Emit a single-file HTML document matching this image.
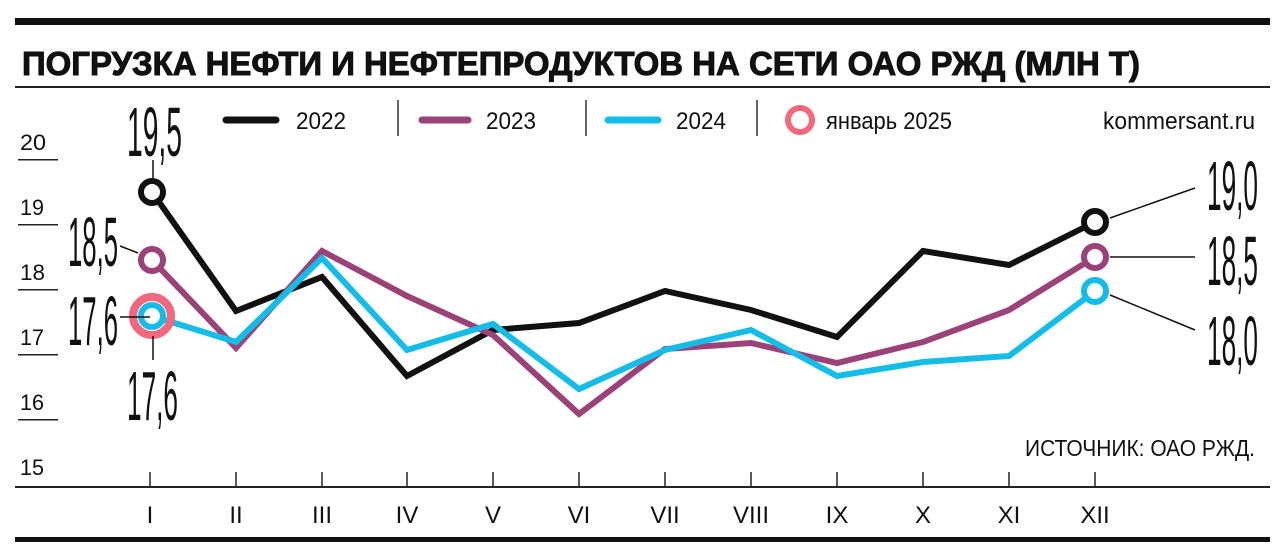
<!DOCTYPE html>
<html><head><meta charset="utf-8"><style>
html,body{margin:0;padding:0;background:#fff;}
svg{display:block;}
text{font-family:"Liberation Sans Narrow","Liberation Sans",sans-serif;fill:#111;}
</style></head><body>
<svg width="1280" height="560" viewBox="0 0 1280 560" xmlns="http://www.w3.org/2000/svg">
<rect x="15" y="18" width="1255" height="7" fill="#111"/>
<text x="22" y="75" font-weight="bold" font-size="33" textLength="1118" lengthAdjust="spacingAndGlyphs" stroke="#111" stroke-width="1" style="font-family:'Liberation Sans',sans-serif">ПОГРУЗКА НЕФТИ И НЕФТЕПРОДУКТОВ НА СЕТИ ОАО РЖД (МЛН Т)</text>
<rect x="15" y="86" width="1255" height="2" fill="#222"/>
<g font-size="22" fill="#222">
<text x="20" y="150" textLength="26" lengthAdjust="spacingAndGlyphs">20</text><rect x="18" y="159" width="40" height="1.5" fill="#222"/>
<text x="20" y="215" textLength="24" lengthAdjust="spacingAndGlyphs">19</text><rect x="18" y="224" width="40" height="1.5" fill="#222"/>
<text x="20" y="280" textLength="25" lengthAdjust="spacingAndGlyphs">18</text><rect x="18" y="289" width="40" height="1.5" fill="#222"/>
<text x="20" y="345" textLength="24" lengthAdjust="spacingAndGlyphs">17</text><rect x="18" y="354" width="40" height="1.5" fill="#222"/>
<text x="20" y="410" textLength="24" lengthAdjust="spacingAndGlyphs">16</text><rect x="18" y="419" width="40" height="1.5" fill="#222"/>
<text x="20" y="475" textLength="24" lengthAdjust="spacingAndGlyphs">15</text>
</g>
<rect x="15" y="486" width="1255" height="2" fill="#222"/>
<g stroke="#222" stroke-width="1.5">
<line x1="150" y1="472" x2="150" y2="487"/><line x1="236" y1="472" x2="236" y2="487"/><line x1="322" y1="472" x2="322" y2="487"/><line x1="407" y1="472" x2="407" y2="487"/><line x1="493" y1="472" x2="493" y2="487"/><line x1="579" y1="472" x2="579" y2="487"/><line x1="665" y1="472" x2="665" y2="487"/><line x1="751" y1="472" x2="751" y2="487"/><line x1="837" y1="472" x2="837" y2="487"/><line x1="923" y1="472" x2="923" y2="487"/><line x1="1009" y1="472" x2="1009" y2="487"/><line x1="1095" y1="472" x2="1095" y2="487"/>
</g>
<g font-size="24" text-anchor="middle" fill="#222">
<text x="150" y="523">I</text><text x="236" y="523">II</text><text x="322" y="523">III</text><text x="407" y="523">IV</text><text x="493" y="523">V</text><text x="579" y="523">VI</text><text x="665" y="523">VII</text><text x="751" y="523">VIII</text><text x="837" y="523">IX</text><text x="923" y="523">X</text><text x="1009" y="523">XI</text><text x="1095" y="523">XII</text>
</g>
<rect x="15" y="537" width="1255" height="5" fill="#111"/>
<text x="1025" y="456" font-size="23" textLength="230" lengthAdjust="spacingAndGlyphs" fill="#222">ИСТОЧНИК: ОАО РЖД.</text>
<g stroke-linecap="round" stroke-width="7">
<line x1="226" y1="120" x2="276" y2="120" stroke="#111"/>
<line x1="422" y1="120" x2="468" y2="120" stroke="#9b4279"/>
<line x1="608" y1="120" x2="658" y2="120" stroke="#14bde8"/>
</g>
<g stroke="#333" stroke-width="1.5"><line x1="398" y1="100" x2="398" y2="136"/><line x1="586" y1="100" x2="586" y2="136"/><line x1="757" y1="100" x2="757" y2="136"/></g>
<circle cx="800" cy="120" r="12" fill="none" stroke="#f2687c" stroke-width="6"/>
<g font-size="24" fill="#222">
<text x="296" y="129" textLength="50" lengthAdjust="spacingAndGlyphs">2022</text>
<text x="486" y="129" textLength="50" lengthAdjust="spacingAndGlyphs">2023</text>
<text x="676" y="129" textLength="50" lengthAdjust="spacingAndGlyphs">2024</text>
<text x="826" y="129" textLength="126" lengthAdjust="spacingAndGlyphs">январь 2025</text>
<text x="1103" y="129" textLength="152" lengthAdjust="spacingAndGlyphs" fill="#777">kommersant.ru</text>
</g>
<g fill="none" stroke-width="6" stroke-linejoin="miter">
<polyline stroke="#111" points="152,192 236,311 322,277 407,376 493,330 579,323 665,291 751,310 837,337 923,251 1009,265 1095,222"/>
<polyline stroke="#9b4279" points="152,260 236,348 322,251 407,296 493,335 579,414 665,349 751,343 837,363 923,342 1009,310 1095,257"/>
<polyline stroke="#14bde8" points="152,316 236,342 322,258 407,350 493,324 579,389 665,350 751,330 837,376 923,362 1009,356 1095,291"/>
</g>
<circle cx="152" cy="316" r="19" fill="none" stroke="#f2687c" stroke-width="8"/>
<g fill="#fff" stroke-width="6">
<circle cx="152" cy="192" r="11" stroke="#111"/>
<circle cx="152" cy="260" r="11" stroke="#9b4279"/>
<circle cx="152" cy="316" r="11" stroke="#14bde8"/>
<circle cx="1095" cy="222" r="11" stroke="#111"/>
<circle cx="1095" cy="257" r="11" stroke="#9b4279"/>
<circle cx="1095" cy="291" r="11" stroke="#14bde8"/>
</g>
<g stroke="#111" stroke-width="1.5">
<line x1="153" y1="160" x2="153" y2="178"/>
<line x1="120" y1="246" x2="138" y2="253"/>
<line x1="120" y1="317" x2="150" y2="317"/>
<line x1="153" y1="336" x2="153" y2="360"/>
<line x1="1110" y1="218" x2="1195" y2="188"/>
<line x1="1110" y1="257" x2="1195" y2="257"/>
<line x1="1110" y1="295" x2="1195" y2="330"/>
</g>
<g font-size="70" fill="#111">
<text x="127" y="156" textLength="55" lengthAdjust="spacingAndGlyphs">19,5</text>
<text x="68" y="266" textLength="50" lengthAdjust="spacingAndGlyphs">18,5</text>
<text x="68" y="345" textLength="50" lengthAdjust="spacingAndGlyphs">17,6</text>
<text x="127" y="420" textLength="51" lengthAdjust="spacingAndGlyphs">17,6</text>
<text x="1207" y="210" textLength="51" lengthAdjust="spacingAndGlyphs">19,0</text>
<text x="1207" y="285" textLength="51" lengthAdjust="spacingAndGlyphs">18,5</text>
<text x="1207" y="365" textLength="51" lengthAdjust="spacingAndGlyphs">18,0</text>
</g>
</svg>
</body></html>
